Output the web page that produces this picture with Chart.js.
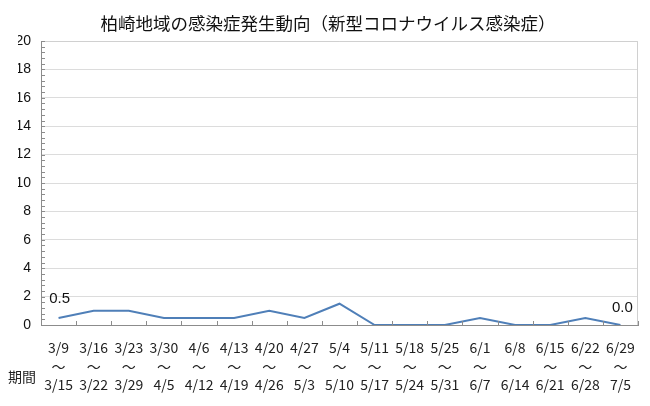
<!DOCTYPE html>
<html>
<head>
<meta charset="utf-8">
<script src="https://cdn.jsdelivr.net/npm/chart.js@4"></script>
<style>
  html, body { margin: 0; padding: 0; background: #fff; }
  #wrap { position: relative; width: 650px; height: 406px; }
  #period { position: absolute; left: 8px; top: 366px; font: 14px "Noto Sans CJK JP", sans-serif; color: #222; }
</style>
</head>
<body>
<div id="wrap">
  <canvas id="c" width="650" height="406"></canvas>
  <div id="period">期間</div>
</div>
<script>
const weekStart = ["3/9", "3/16", "3/23", "3/30", "4/6", "4/13", "4/20", "4/27", "5/4", "5/11", "5/18", "5/25", "6/1", "6/8", "6/15", "6/22", "6/29"];
const weekEnd = ["3/15", "3/22", "3/29", "4/5", "4/12", "4/19", "4/26", "5/3", "5/10", "5/17", "5/24", "5/31", "6/7", "6/14", "6/21", "6/28", "7/5"];
const cases = [0.5, 1, 1, 0.5, 0.5, 0.5, 1, 0.5, 1.5, 0, 0, 0, 0.5, 0, 0, 0.5, 0];
const yTicks = [0, 2, 4, 6, 8, 10, 12, 14, 16, 18, 20];

const labels = weekStart.map((s, i) => [s, "～", weekEnd[i]]);

// inside tick marks + first/last value labels
const extras = {
  id: "extras",
  afterDraw(chart) {
    const ctx = chart.ctx;
    const x = chart.scales.x, y = chart.scales.y;
    const a = chart.chartArea;
    ctx.save();
    ctx.strokeStyle = "#8c8c8c";
    ctx.lineWidth = 1;
    ctx.beginPath();
    for (let i = 0; i <= weekStart.length; i++) {
      const px = Math.round(x.getPixelForValue(i - 0.5)) + 0.5;
      ctx.moveTo(px, a.bottom);
      ctx.lineTo(px, a.bottom - 4);
    }
    for (let k = 0; k <= 50; k++) {
      const py = Math.round(y.getPixelForValue(k * 0.4)) + 0.5;
      ctx.moveTo(a.left, py);
      ctx.lineTo(a.left + 4, py);
    }
    ctx.stroke();
    const meta = chart.getDatasetMeta(0);
    ctx.fillStyle = "#111";
    ctx.font = "15px 'Liberation Sans', Arial, sans-serif";
    ctx.textBaseline = "bottom";
    const p0 = meta.data[0];
    ctx.textAlign = "center";
    ctx.fillText(cases[0].toFixed(1), p0.x + 1, p0.y - 12);
    const pl = meta.data[cases.length - 1];
    ctx.fillText(cases[cases.length - 1].toFixed(1), pl.x + 2, pl.y - 10);
    ctx.restore();
  }
};

new Chart(document.getElementById("c"), {
  type: "line",
  data: {
    labels: labels,
    datasets: [{
      data: cases,
      borderColor: "#4f7fb8",
      borderWidth: 2,
      pointRadius: 0,
      tension: 0,
      fill: false
    }]
  },
  options: {
    responsive: false,
    animation: false,
    layout: { padding: { left: 18, right: 12, top: 0, bottom: 0 } },
    plugins: {
      legend: { display: false },
      tooltip: { enabled: false },
      title: {
        display: true,
        text: "柏崎地域の感染症発生動向（新型コロナウイルス感染症）",
        color: "#111",
        font: { family: "'Noto Sans CJK JP', sans-serif", size: 17.5, weight: "normal" },
        padding: { top: 13, bottom: 7 }
      }
    },
    scales: {
      x: {
        offset: true,
        grid: { display: false },
        border: { color: "#8c8c8c" },
        ticks: {
          color: "#222",
          font: { family: "'Noto Sans CJK JP', sans-serif", size: 14, lineHeight: 1.3 },
          maxRotation: 0,
          autoSkip: false,
          padding: 6
        },
        afterFit: (s) => { s.height = 81; }
      },
      y: {
        min: 0,
        max: 20,
        afterBuildTicks: (s) => { s.ticks = yTicks.map((v) => ({ value: v })); },
        grid: { color: "#dcdcdc", drawTicks: false },
        border: { color: "#8c8c8c" },
        ticks: {
          color: "#111",
          font: { family: "'Liberation Sans', Arial, sans-serif", size: 14 },
          padding: 10
        },
        afterFit: (s) => { s.width = 23; }
      }
    }
  },
  plugins: [extras, {
    id: "frame",
    beforeDatasetsDraw(chart) {
      const a = chart.chartArea, ctx = chart.ctx;
      ctx.save();
      ctx.strokeStyle = "#d0d0d0";
      ctx.lineWidth = 1;
      ctx.beginPath();
      ctx.moveTo(a.left, a.top + 0.5);
      ctx.lineTo(a.right - 0.5, a.top + 0.5);
      ctx.lineTo(a.right - 0.5, a.bottom);
      ctx.stroke();
      ctx.restore();
    }
  }]
});
</script>
</body>
</html>
